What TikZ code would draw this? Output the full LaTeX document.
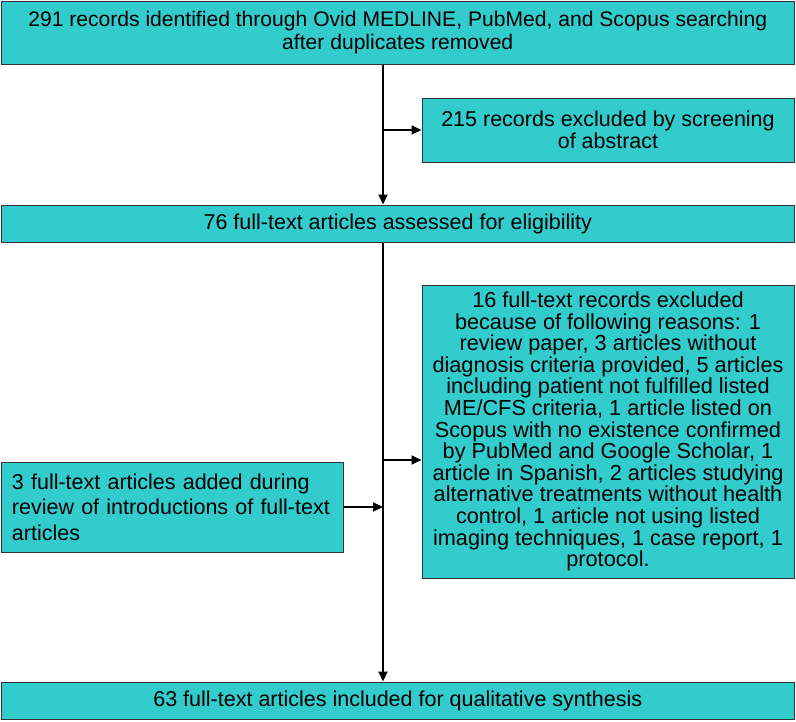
\documentclass[tikz,border=0pt]{standalone}
\usepackage{fontspec}
\setmainfont{Liberation Sans}
\usetikzlibrary{arrows.meta}
\definecolor{boxfill}{RGB}{51,204,204}
\definecolor{boxline}{RGB}{51,51,51}
\begin{document}
\begin{tikzpicture}[x=1pt,y=-1pt,
  box/.style={draw=boxline,line width=1pt,fill=boxfill,inner sep=0pt,
    font=\fontsize{21.5}{22.5}\selectfont,align=center},
  flow/.style={line width=2pt,-{Triangle[length=10pt,width=9pt]}}]
\useasboundingbox (0,0) rectangle (796,721);
\node[box,minimum width=793pt,minimum height=63pt,font=\fontsize{21.1}{22.5}\selectfont] (b1) at (397.75,32.5)
  {291 records identified through Ovid MEDLINE, PubMed, and Scopus searching\\after duplicates removed};
\node[box,minimum width=372pt,minimum height=64pt] (b2) at (608,130)
  {215 records excluded by screening\\of abstract};
\node[box,minimum width=793pt,minimum height=37pt] (b3) at (397.75,223.5)
  {76 full-text articles assessed for eligibility};
\node[box,minimum width=372pt,minimum height=293pt,font=\fontsize{21.7}{21.6}\selectfont] (b4) at (608,431.5)
  {16 full-text records excluded\\because of following reasons: 1\\review paper, 3 articles without\\diagnosis criteria provided, 5 articles\\including patient not fulfilled listed\\ME/CFS criteria, 1 article listed on\\Scopus with no existence confirmed\\by PubMed and Google Scholar, 1\\article in Spanish, 2 articles studying\\alternative treatments without health\\control, 1 article not using listed\\imaging techniques, 1 case report, 1\\protocol.};
\node[box,minimum width=342pt,minimum height=90pt,text width=320pt,align=left,font=\fontsize{21.5}{25.5}\selectfont] (b5) at (172,507)
  {3 full-text articles added during\\review of introductions of full-text\\articles};
\node[box,minimum width=793pt,minimum height=37pt] (b6) at (397.75,700.5)
  {63 full-text articles included for qualitative synthesis};
\coordinate (spine) at (383,0);
\coordinate (j1) at (383,130);
\coordinate (j2) at (383,460);
\draw[flow] (b1.south -| spine) -- (b3.north -| spine);
\draw[flow] (j1) -- (b2.west |- j1);
\draw[flow] (b3.south -| spine) -- (b6.north -| spine);
\draw[flow] (j2) -- (b4.west |- j2);
\draw[flow] (b5.east) -- (b5.east -| spine);
\end{tikzpicture}
\end{document}
